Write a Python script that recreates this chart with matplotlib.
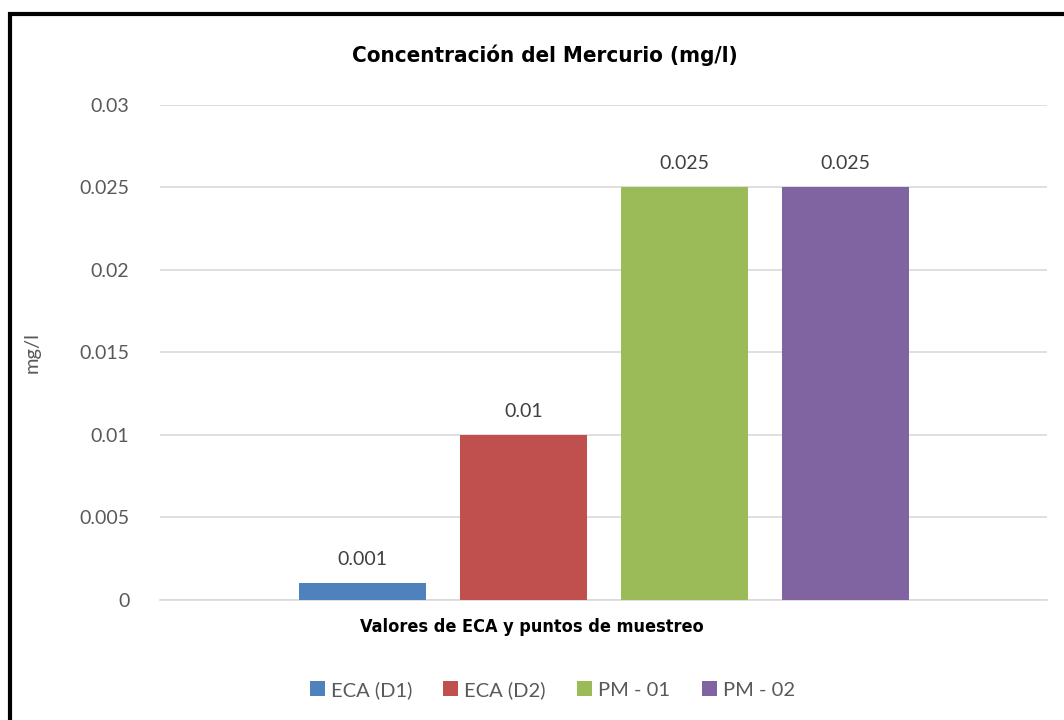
import matplotlib.pyplot as plt
from matplotlib.patches import Rectangle

# Mercury concentration per ECA limit and sampling point
series = ['ECA (D1)', 'ECA (D2)', 'PM - 01', 'PM - 02']
values = [0.001, 0.01, 0.025, 0.025]
labels = ['0.001', '0.01', '0.025', '0.025']
colors = ['#4F81BD', '#C0504D', '#9BBB59', '#8064A2']
yticks = [0, 0.005, 0.01, 0.015, 0.02, 0.025, 0.03]
ytick_labels = ['0', '0.005', '0.01', '0.015', '0.02', '0.025', '0.03']

body_font = ['Lato', 'DejaVu Sans']
head_font = ['DejaVu Sans']
grey = '#595959'

fig = plt.figure(figsize=(10.64, 7.2), dpi=100)
ax = fig.add_axes([0.1504, 0.1667, 0.8336, 0.6875])

for i, (name, v, c) in enumerate(zip(series, values, colors)):
    ax.bar(i, v, width=0.79, color=c, label=name, zorder=3)
    ax.annotate(labels[i], (i, v), xytext=(0, 11), textcoords='offset points',
                ha='center', va='bottom', fontsize=14, color='#404040',
                family=body_font)

ax.set_xlim(-1.26, 4.25)
ax.set_ylim(0, 0.03)
ax.set_yticks(yticks)
ax.set_yticklabels(ytick_labels, family=body_font, fontsize=14, color=grey)
ax.set_xticks([])
ax.tick_params(axis='y', length=0, pad=22)
ax.grid(axis='y', color='#D9D9D9', linewidth=1.2, zorder=0)
for s in ['top', 'right', 'left']:
    ax.spines[s].set_visible(False)
ax.spines['bottom'].set_color('#D9D9D9')
ax.spines['bottom'].set_linewidth(1.2)

ax.set_ylabel('mg/l', family=body_font, fontsize=14.5, color=grey, labelpad=28)
fig.text(532 / 1064, 1 - 627 / 720, 'Valores de ECA y puntos de muestreo',
         family=head_font, fontsize=13, fontweight='bold', fontstretch='condensed',
         ha='center', va='center')
fig.text(545 / 1064, 1 - 55 / 720, 'Concentración del Mercurio (mg/l)', family=head_font,
         fontsize=16, fontweight='bold', fontstretch='condensed',
         ha='center', va='center')

leg = fig.legend(loc='center', bbox_to_anchor=(0.519, 0.042), ncol=4, frameon=False,
                 prop={'family': body_font, 'size': 14.5}, handlelength=0.75,
                 handleheight=0.75, handletextpad=0.3, columnspacing=1.55)
for t in leg.get_texts():
    t.set_color(grey)

# outer frame around the chart area
fig.add_artist(Rectangle((10 / 1064, -0.1), 1.2, 1.1 - 14 / 720, transform=fig.transFigure,
                         fill=False, edgecolor='black', linewidth=3))

fig.savefig('out.png', dpi=100)
